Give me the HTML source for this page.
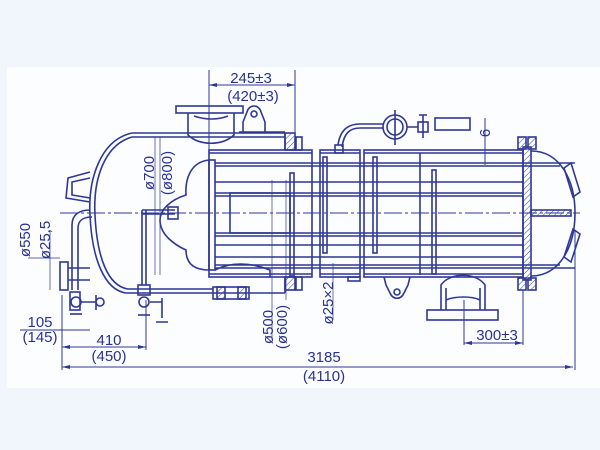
<!DOCTYPE html>
<html><head><meta charset="utf-8"><style>
html,body{margin:0;padding:0;background:#f3f6fc;}
svg{display:block}
text{font-family:"Liberation Sans",sans-serif;font-size:15px;fill:#2a3192}
</style></head><body>
<svg width="600" height="450" viewBox="0 0 600 450" xmlns="http://www.w3.org/2000/svg">
<defs>
<pattern id="h" width="4" height="4" patternUnits="userSpaceOnUse" patternTransform="rotate(45)"><line x1="0" y1="0" x2="0" y2="4" stroke="#3a4099" stroke-width="1"/></pattern>
</defs>
<rect x="0" y="0" width="600" height="450" fill="#f1f5fc"/>
<rect x="7" y="67" width="593" height="321" fill="#fbfdff"/>
<g fill="none" stroke="#2f3796" stroke-width="1.6">
<path d="M132,133 L285,133 M132,137 L285,137"/>
<path d="M132,133 C100,140 88,180 90,215 C92,260 105,290 126,293 L285,293"/>
<path d="M132,137 C104,145 93,180 95,215 C97,258 108,286 128,289 L213,289"/>
<path d="M285,133 L285,150 M285,277 L285,293"/>
<path d="M90,172 L68,178 L66,198 L90,202 M90,178 L72,182 L72,195 L90,198"/>
<rect x="176" y="106" width="67" height="7"/>
<path d="M188,113 L188,135 C200,146 222,146 234,135 L234,113"/>
<path d="M194,116 C205,120 218,120 228,116"/>
<path d="M243,132 L243,122 L247,112 C249,104 259,104 261,112 L265,122 L265,132"/>
<circle cx="254" cy="114" r="3"/>
<path d="M239,132 L285,132"/>
<rect x="285" y="133" width="10" height="17" fill="url(#h)"/>
<rect x="296" y="137" width="6" height="13"/>
<rect x="285" y="277" width="10" height="13" fill="url(#h)"/>
<rect x="296" y="277" width="6" height="13"/>
<rect x="209" y="150" width="103" height="127"/>
<path d="M209,153 L312,153 M209,274 L312,274"/>
<rect x="320" y="150" width="40" height="127"/>
<rect x="364" y="150" width="159" height="127"/>
<path d="M364,153 L523,153 M364,274 L523,274 M320,153 L360,153 M320,274 L360,274"/>
<path d="M209,160 C190,162 185,180 186,195 C170,200 160,210 160,220 C160,235 175,245 186,250 C186,262 192,270 209,270"/>
<rect x="209" y="160" width="6" height="110"/>
<path d="M215,270 C230,262 250,262 270,270 L270,277"/>
<rect x="230" y="193" width="60" height="40"/>
<path d="M215,163 L575,163 M215,166 L560,166 M215,182 L523,182 M215,193 L523,193 M215,196 L523,196 M215,233 L523,233 M215,236 L523,236 M215,245 L523,245 M215,257 L523,257 M215,265 L560,265 M215,268 L575,268"/>
<path d="M60,213 L580,213" stroke-dasharray="18,3,3,3" stroke-width="1"/>
<rect x="290" y="173" width="4" height="103"/>
<rect x="323" y="157" width="4" height="96"/>
<rect x="373" y="157" width="4" height="96"/>
<rect x="432" y="170" width="4" height="104"/>
<path d="M420,153 L420,275"/>
<rect x="523" y="147" width="8" height="133" fill="url(#h)"/>
<rect x="518" y="137" width="8" height="12" fill="url(#h)"/>
<rect x="528" y="137" width="8" height="12" fill="url(#h)"/>
<rect x="518" y="278" width="8" height="12" fill="url(#h)"/>
<rect x="528" y="278" width="8" height="12" fill="url(#h)"/>
<path d="M531,151 C560,151 575,180 575,213 C575,246 560,276 531,276"/>
<rect x="531" y="210" width="40" height="6" fill="url(#h)"/>
<path d="M564,168 L571,163 L580,192 L573,197 Z M573,229 L580,234 L571,262 L564,257 Z"/>
<path d="M338,145 C340,130 348,124 360,124 L383,124 M342,147 C344,133 350,128 360,128 L383,128"/>
<rect x="335" y="145" width="8" height="8"/>
<circle cx="395" cy="127" r="12"/><circle cx="395" cy="127" r="8"/>
<path d="M395,110 L395,145 M407,127 L418,127"/>
<rect x="418" y="122" width="10" height="10"/><path d="M423,115 L423,138 M419,115 L427,115"/>
<rect x="435" y="118" width="35" height="12"/>
<path d="M441,310 L441,285 C450,272 476,272 485,285 L485,310 M446,310 L446,288 M480,310 L480,288 M446,300 C455,296 472,296 480,300"/>
<rect x="427" y="310" width="71" height="10"/>
<path d="M384,277 L386,285 L390,293 C393,300 401,300 404,293 L408,285 L410,277"/><circle cx="397" cy="292" r="3"/>
<rect x="348" y="277" width="12" height="4"/>
<rect x="213" y="287" width="36" height="12"/>
<rect x="217" y="287" width="8" height="12" fill="url(#h)"/>
<rect x="238" y="287" width="8" height="12" fill="url(#h)"/>
<path d="M72,290 L72,225 C72,214 80,210 90,210 M78,290 L78,228 C78,220 84,217 92,217"/>
<rect x="60" y="262" width="8" height="28"/>
<path d="M68,268 L90,268 M68,280 L90,280"/>
<rect x="70" y="292" width="10" height="18"/>
<circle cx="76" cy="302" r="5"/><path d="M80,302 L96,302 M96,295 L96,310"/>
<circle cx="100" cy="302" r="4"/>
<path d="M70,314 L82,314"/>
<path d="M142,210 L142,285 M146,210 L146,285 M142,210 L175,210 M142,214 L175,214"/>
<rect x="168" y="207" width="10" height="12"/>
<rect x="138" y="285" width="12" height="10"/>
<circle cx="144" cy="302" r="5"/><path d="M150,302 L162,302 M162,298 L162,318 M156,322 L168,322"/>
<path d="M138,315 L150,315"/>
<g stroke-width="1">
<path d="M209,70 L209,150 M295,70 L295,133 M209,85 L295,85"/>
<path d="M155,137 L155,275 M160,137 L160,275" stroke-width="0.7"/>
<path d="M272,180 L272,340 M286,180 L286,300" stroke-width="0.7"/>
<path d="M333,263 L333,320" stroke-width="0.7"/>
<path d="M485,118 L485,165"/>
<path d="M28,258 L60,258 M50,230 L50,290" stroke-width="0.7"/>
<path d="M62,295 L62,370 M20,330 L90,330"/>
<path d="M146,300 L146,350 M62,347 L146,347"/>
<path d="M464,300 L464,345 M523,290 L523,345 M464,343 L523,343"/>
<path d="M575,230 L575,370 M62,367 L573,367"/>
</g>
</g>
<g fill="#2f3796">
<path d="M209,85 l8,-2 l0,4z M295,85 l-8,-2 l0,4z M62,347 l8,-2 l0,4z M146,347 l-8,-2 l0,4z M464,343 l8,-2 l0,4z M523,343 l-8,-2 l0,4z M62,367 l8,-2 l0,4z M573,367 l-8,-2 l0,4z"/>
</g>
<text x="251" y="83" text-anchor="middle">245±3</text>
<text x="253" y="101" text-anchor="middle">(420±3)</text>
<text x="40" y="327" text-anchor="middle">105</text>
<text x="40" y="342" text-anchor="middle">(145)</text>
<text x="109" y="345" text-anchor="middle">410</text>
<text x="109" y="361" text-anchor="middle">(450)</text>
<text x="324" y="362" text-anchor="middle">3185</text>
<text x="324" y="381" text-anchor="middle">(4110)</text>
<text x="497" y="340" text-anchor="middle">300±3</text>
<text transform="translate(154,173) rotate(-90)" text-anchor="middle">ø700</text>
<text transform="translate(172,173) rotate(-90)" text-anchor="middle">(ø800)</text>
<text transform="translate(30,240) rotate(-90)" text-anchor="middle">ø550</text>
<text transform="translate(50,240) rotate(-90)" text-anchor="middle">ø25,5</text>
<text transform="translate(273,327) rotate(-90)" text-anchor="middle">ø500</text>
<text transform="translate(287,327) rotate(-90)" text-anchor="middle">(ø600)</text>
<text transform="translate(333,303) rotate(-90)" text-anchor="middle">ø25×2</text>
<text transform="translate(490,133) rotate(-90)" text-anchor="middle">6</text>
</svg>
</body></html>
